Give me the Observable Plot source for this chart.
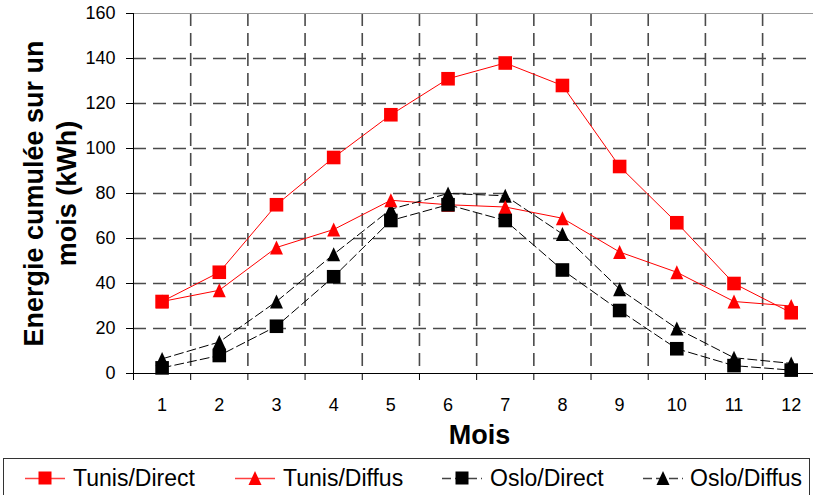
<!DOCTYPE html>
<html><head><meta charset="utf-8">
<script src="https://cdn.jsdelivr.net/npm/d3@7"></script>
<script src="https://cdn.jsdelivr.net/npm/@observablehq/plot@0.6"></script>
<style>
html,body{margin:0;padding:0;background:#fff;width:813px;height:495px;overflow:hidden;font-family:"Liberation Sans",Arial,sans-serif;}
#chart{position:absolute;left:0;top:0;}
#legend{position:absolute;left:0;top:455px;}
</style></head><body>
<div id="chart"></div>
<svg id="legend" width="813" height="40"></svg>
<script>
// ---- data ----
const months = [1, 2, 3, 4, 5, 6, 7, 8, 9, 10, 11, 12];
const seriesNames = ["Tunis/Direct", "Tunis/Diffus", "Oslo/Direct", "Oslo/Diffus"];
const tunisDirect = [32, 45, 75, 96, 115, 131, 138, 128, 92, 67, 40, 27];
const tunisDiffus = [32, 37, 56, 64, 77, 75, 74, 69, 54, 45, 32, 30];
const osloDirect  = [2.5, 8, 21, 43, 68, 75, 68, 46, 28, 11, 3.5, 1.5];
const osloDiffus  = [6.5, 14, 32, 53, 73, 80, 79, 62, 37.5, 20, 7, 4.5];
const yTicks = [0, 20, 40, 60, 80, 100, 120, 140, 160];
const yTitle = "Energie cumulée sur un\nmois (kWh)";
const xTitle = "Mois";

// ---- styles ----
const valuesBySeries = {
  "Tunis/Direct": tunisDirect, "Tunis/Diffus": tunisDiffus,
  "Oslo/Direct": osloDirect, "Oslo/Diffus": osloDiffus
};
const squareSym = {draw(ctx, size) { const r = Math.sqrt(size / Math.PI); ctx.rect(-r, -r, 2 * r, 2 * r); }};
const triSym = {draw(ctx, size) { const r = Math.sqrt(size / Math.PI); ctx.moveTo(0, -r); ctx.lineTo(r * 0.93, r); ctx.lineTo(-r * 0.93, r); ctx.closePath(); }};
const style = {
  "Tunis/Direct": {color: "#ff0000", dash: null, sym: squareSym, r: 6.8, shape: "square"},
  "Tunis/Diffus": {color: "#ff0000", dash: null, sym: triSym, r: 7, shape: "tri"},
  "Oslo/Direct":  {color: "#000000", dash: "9,4", sym: squareSym, r: 6.8, shape: "square"},
  "Oslo/Diffus":  {color: "#000000", dash: "9,4", sym: triSym, r: 7, shape: "tri"}
};
const rows = seriesNames.flatMap(s => months.map((m, i) => ({series: s, month: m, value: valuesBySeries[s][i]})));
const boundaries = [0, ...months].map(m => m + 0.5);
const gridDash = "13,7";
const gridColor = "#4a4a4a";
const font = "'Liberation Sans', Arial, sans-serif";

const lineMarks = seriesNames.map(s => Plot.line(rows.filter(d => d.series === s), {
  x: "month", y: "value", stroke: style[s].color, strokeWidth: 1,
  strokeDasharray: style[s].dash || undefined
}));
const dotOrder = ["Oslo/Diffus", "Tunis/Direct", "Tunis/Diffus", "Oslo/Direct"];
const dotMarks = dotOrder.map(s => Plot.dot(rows.filter(d => d.series === s), {
  x: "month", y: "value", symbol: style[s].sym, r: style[s].r, fill: style[s].color, stroke: "none"
}));

const chart = Plot.plot({
  width: 813, height: 455,
  marginLeft: 133, marginRight: 0, marginTop: 13, marginBottom: 82,
  x: {domain: [0.5, 12.39]},
  y: {domain: [0, 160]},
  style: {fontFamily: font, fontSize: "18px", color: "#000", background: "#fff", overflow: "visible"},
  marks: [
    Plot.ruleY(yTicks.filter(d => d > 0 && d < 160), {stroke: gridColor, strokeWidth: 1.6, strokeDasharray: gridDash}),
    Plot.ruleX(boundaries.filter(b => b > 1 && b < 12), {stroke: gridColor, strokeWidth: 1.6, strokeDasharray: gridDash}),
    Plot.ruleY([160], {stroke: "#999"}),
    Plot.axisY({ticks: yTicks, tickSize: 7, tickPadding: 11, fontSize: 18, label: null, stroke: "#000"}),
    Plot.axisX({ticks: boundaries, tickSize: 7, tickFormat: () => "", label: null, stroke: "#000"}),
    Plot.axisX({ticks: months, tickSize: 0, tickPadding: 25, fontSize: 18, label: null}),
    Plot.ruleX([0.5], {stroke: "#000"}),
    Plot.ruleY([0], {stroke: "#000"}),
    ...lineMarks,
    ...dotMarks,
    Plot.text([yTitle], {frameAnchor: "left", rotate: -90, dx: -84.4, fontSize: 27, fontWeight: "bold",
      lineHeight: 1.2, lineAnchor: "middle", textAnchor: "middle", fill: "#000"}),
    Plot.text([xTitle], {frameAnchor: "bottom", dy: 62, dx: 6, fontSize: 27, fontWeight: "bold",
      lineAnchor: "middle", textAnchor: "middle", fill: "#000"})
  ]
});
document.getElementById("chart").appendChild(chart);

// ---- legend ----
const leg = d3.select("#legend");
leg.append("rect").attr("x", 3.5).attr("y", 3.5).attr("width", 806).attr("height", 60)
  .attr("fill", "none").attr("stroke", "#333");
const legPos = [{x0: 25, text: 73}, {x0: 235, text: 283}, {x0: 442, text: 490}, {x0: 643, text: 690}];
seriesNames.forEach((s, i) => {
  const p = legPos[i], st = style[s], cy = 23, cx = p.x0 + 20;
  leg.append("line").attr("x1", p.x0).attr("x2", p.x0 + 40).attr("y1", cy + 0.5).attr("y2", cy + 0.5)
    .attr("stroke", st.color === "#000000" ? "#444" : "#ff4040").attr("stroke-width", 1.5)
    .attr("stroke-dasharray", st.dash);
  if (st.shape === "square") {
    leg.append("rect").attr("x", cx - 6.5).attr("y", cy - 6.5).attr("width", 13).attr("height", 13).attr("fill", st.color);
  } else {
    leg.append("path").attr("d", `M${cx},${cy - 7}L${cx + 6.5},${cy + 7}L${cx - 6.5},${cy + 7}Z`).attr("fill", st.color);
  }
  leg.append("text").attr("x", p.text).attr("y", 31).attr("font-size", 23)
    .attr("font-family", font).attr("fill", "#000").text(s);
});
</script>
</body></html>
